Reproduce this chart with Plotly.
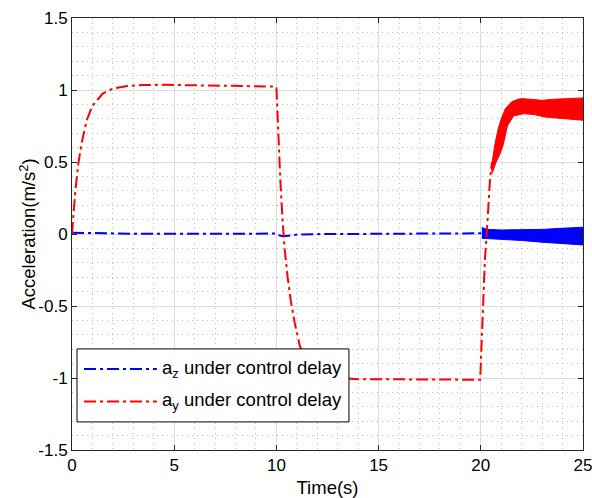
import plotly.graph_objects as go

# ---- data -------------------------------------------------------------
# a_z under control delay (single trace until the oscillation sets in)
az_t = [0, 0.5, 1, 2, 3, 5, 8, 10, 10.1, 10.3, 10.6, 11, 12, 15, 18, 20, 20.05]
az_v = [0.009, 0.007, 0.005, 0.003, 0.002, 0.001, 0.002, 0.003, -0.008, -0.015,
        -0.012, -0.005, -0.001, 0.002, 0.004, 0.005, 0.005]

# a_z oscillation envelope after t = 20 s
az_band_t = [20.05, 20.3, 21.0, 22.0, 23.0, 24.0, 25.0]
az_band_hi = [0.045, 0.032, 0.028, 0.028, 0.032, 0.040, 0.047]
az_band_lo = [-0.030, -0.030, -0.035, -0.045, -0.057, -0.068, -0.076]

# a_y under control delay (single trace until the oscillation sets in)
ay_t = [0, 0.05, 0.15, 0.3, 0.47, 0.72, 1.0, 1.5, 2.0, 2.7, 3.5, 4.5, 6, 8, 9.9,
        10.0, 10.1, 10.2, 10.3, 10.4, 10.55, 10.7, 10.9, 11.15, 11.5, 12, 12.5,
        13, 14, 16, 18, 19.97, 20.05, 20.12, 20.2, 20.29, 20.37, 20.45, 20.55]
ay_v = [0, 0.10, 0.28, 0.48, 0.63, 0.79, 0.89, 0.975, 1.01, 1.028, 1.035, 1.036,
        1.034, 1.03, 1.024, 1.02, 0.65, 0.35, 0.10, -0.10, -0.30, -0.46, -0.62,
        -0.78, -0.88, -0.95, -0.985, -1.0, -1.008, -1.01, -1.01, -1.012, -0.72,
        -0.40, -0.18, 0.0, 0.22, 0.38, 0.50]

# a_y oscillation envelope after t = 20 s
ay_hi_t = [20.5, 20.6, 20.7, 20.85, 21.0, 21.2, 21.5, 21.8, 22.0, 22.5, 23.0,
           23.5, 24.0, 24.5, 25.0]
ay_hi_v = [0.45, 0.56, 0.63, 0.73, 0.80, 0.87, 0.917, 0.935, 0.94, 0.935, 0.928,
           0.935, 0.94, 0.94, 0.945]
ay_lo_t = [20.55, 20.75, 20.95, 21.1, 21.3, 21.6, 22.1, 22.6, 23.1, 23.6, 24.1,
           24.6, 25.0]
ay_lo_v = [0.42, 0.50, 0.56, 0.62, 0.75, 0.82, 0.835, 0.83, 0.813, 0.806, 0.80,
           0.795, 0.79]

x_ticks = [0, 5, 10, 15, 20, 25]
x_ticktext = ["0", "5", "10", "15", "20", "25"]
y_ticks = [-1.5, -1, -0.5, 0, 0.5, 1, 1.5]
y_ticktext = ["-1.5", "-1", "-0.5", "0", "0.5", "1", "1.5"]

legend_labels = ["a<sub>z</sub> under control delay",
                 "a<sub>y</sub> under control delay"]
x_title = "Time(s)"
y_title = "Acceleration(m/s<sup>2</sup>)"

# ---- styling ----------------------------------------------------------
BLUE = "#0000FF"
RED = "#FF0000"
AXIS = "#262626"
FONT = "Liberation Sans, Arial, Helvetica, sans-serif"
DASHDOT = "12px,4px,3px,4px"
TICK_SIZE = 17
TEXT_SIZE = 18.5

fig = go.Figure()

# a_z: line, then oscillation band
fig.add_trace(go.Scatter(x=az_t, y=az_v, mode="lines",
                         line=dict(color=BLUE, width=2, dash=DASHDOT),
                         showlegend=False))
fig.add_trace(go.Scatter(x=az_band_t + az_band_t[::-1],
                         y=az_band_hi + az_band_lo[::-1],
                         mode="lines", fill="toself", fillcolor=BLUE,
                         line=dict(color=BLUE, width=1), showlegend=False))

# a_y: line, then oscillation band (drawn on top of a_z)
fig.add_trace(go.Scatter(x=ay_t, y=ay_v, mode="lines",
                         line=dict(color=RED, width=2, dash=DASHDOT),
                         showlegend=False))
fig.add_trace(go.Scatter(x=ay_hi_t + ay_lo_t[::-1],
                         y=ay_hi_v + ay_lo_v[::-1],
                         mode="lines", fill="toself", fillcolor=RED,
                         line=dict(color=RED, width=1), showlegend=False))

# ---- legend box (drawn in paper coordinates) --------------------------
box = dict(x0=0.0098, x1=0.542, y0=0.065, y1=0.234)
rows_y = [0.1875, 0.1123]
colors = [BLUE, RED]
shapes = [dict(type="rect", xref="paper", yref="paper",
               x0=box["x0"], x1=box["x1"], y0=box["y0"], y1=box["y1"],
               line=dict(color="#000000", width=1), fillcolor="white",
               layer="above")]
annotations = []
for label, yy, col in zip(legend_labels, rows_y, colors):
    shapes.append(dict(type="line", xref="paper", yref="paper",
                       x0=0.0235, x1=0.166, y0=yy, y1=yy, layer="above",
                       line=dict(color=col, width=2, dash=DASHDOT)))
    annotations.append(dict(xref="paper", yref="paper", x=0.1722, y=yy,
                            xanchor="left", yanchor="middle", text=label,
                            showarrow=False,
                            font=dict(family=FONT, size=TEXT_SIZE,
                                      color="#000000")))

# vertical axis title, placed just left of the tick labels
annotations.append(dict(xref="paper", yref="paper", x=-0.087, y=0.5,
                        xanchor="center", yanchor="middle", textangle=-90,
                        text=y_title, showarrow=False,
                        font=dict(family=FONT, size=TEXT_SIZE,
                                  color="#000000")))

axis_common = dict(
    automargin=False,
    showline=True, linecolor=AXIS, linewidth=1, mirror="ticks",
    ticks="inside", ticklen=5, tickcolor=AXIS, tickwidth=1,
    showgrid=True, gridcolor="#dcdcdc", gridwidth=1, zeroline=False,
    ticklabeloverflow="allow",
    tickfont=dict(family=FONT, size=TICK_SIZE, color="#000000"),
)

fig.update_layout(
    width=592, height=498,
    margin=dict(l=72, r=9, t=18, b=48),
    paper_bgcolor="white", plot_bgcolor="white",
    font=dict(family=FONT, size=TEXT_SIZE, color="#000000"),
    shapes=shapes, annotations=annotations,
    xaxis=dict(range=[0, 25], tickvals=x_ticks, ticktext=x_ticktext,
               title=dict(text=x_title, standoff=6,
                          font=dict(family=FONT, size=TEXT_SIZE,
                                    color="#000000")),
               minor=dict(dtick=1, showgrid=True, gridcolor="#bdbdbd",
                          griddash="1px,4px", gridwidth=1),
               **axis_common),
    yaxis=dict(range=[-1.5, 1.5], tickvals=y_ticks, ticktext=y_ticktext,
               minor=dict(dtick=0.1, tick0=0, showgrid=True,
                          gridcolor="#bdbdbd", griddash="1px,4px",
                          gridwidth=1),
               **axis_common),
)

fig.write_html("out.html")
